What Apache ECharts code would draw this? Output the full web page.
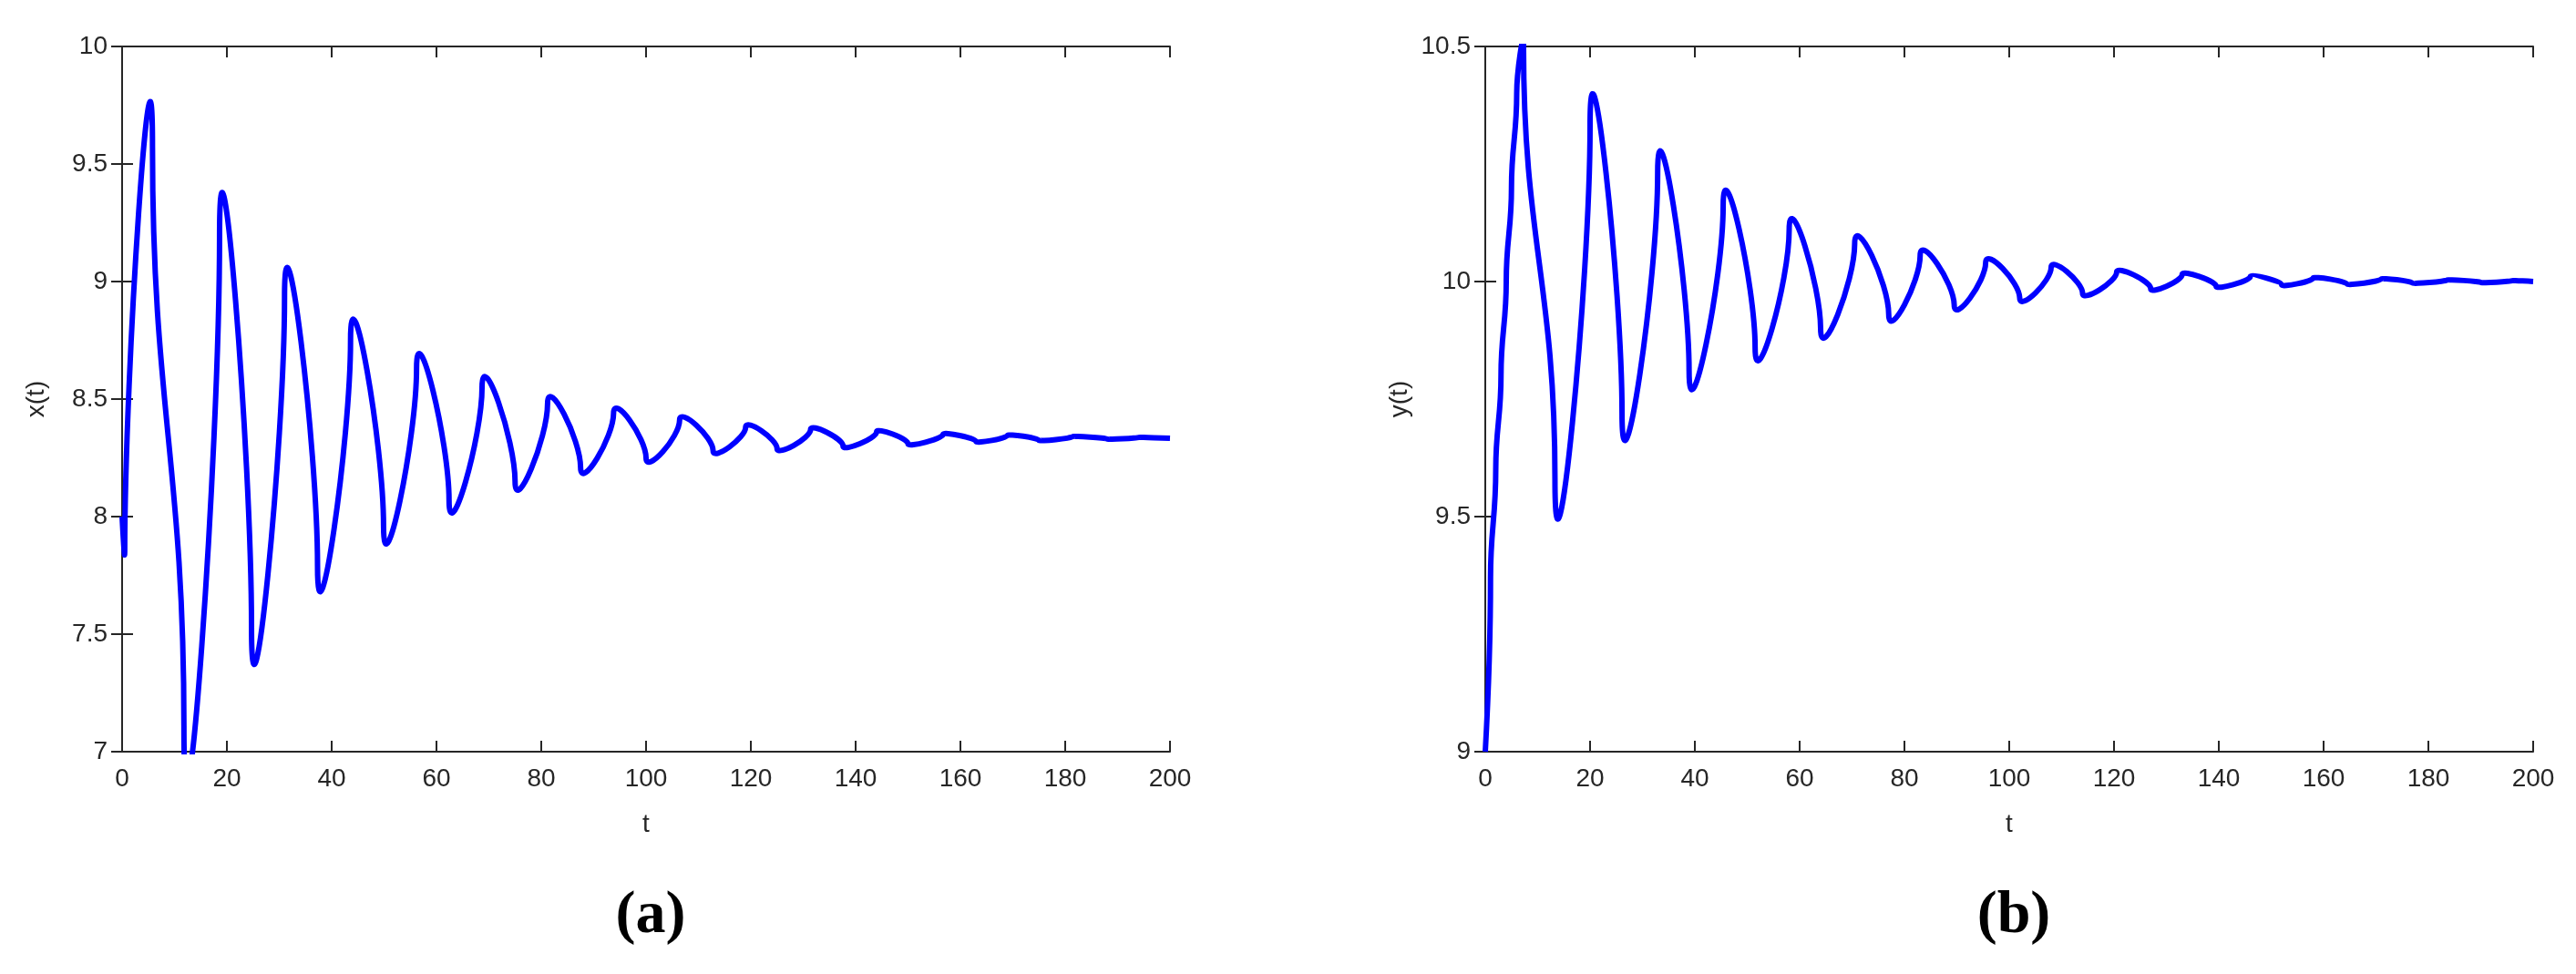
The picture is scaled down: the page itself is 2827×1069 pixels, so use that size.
<!DOCTYPE html>
<html>
<head>
<meta charset="utf-8">
<script src="https://cdn.jsdelivr.net/npm/echarts@6/dist/echarts.min.js"></script>
<style>html,body{margin:0;padding:0;background:#fff}#chart{width:2827px;height:1069px}</style>
</head>
<body>
<div id="chart"></div>
<script>
// x(t) 曲线：起点、极值点
var tA = [0, 0.5, 5.8, 11.8, 18.6, 24.7, 31, 37.3, 43.6, 49.9, 56.2, 62.4, 68.7, 75, 81.2, 87.5, 93.8, 100, 106.4, 112.8, 119, 125, 131.4, 137.6, 144, 150, 156.7, 163, 169, 175, 181.4, 188, 194, 200];
var xA = [8.0, 7.85, 9.57, 7.11, 9.19, 7.53, 8.93, 7.79, 8.75, 7.96, 8.63, 8.07, 8.55, 8.15, 8.48, 8.21, 8.44, 8.25, 8.41, 8.28, 8.38, 8.29, 8.37, 8.30, 8.36, 8.31, 8.35, 8.32, 8.345, 8.325, 8.34, 8.33, 8.337, 8.333];
// y(t) 曲线：起始上升段、极值点
var tB = [0, 1, 2, 3, 4, 5, 6, 7.3, 13.3, 20, 26.1, 32.9, 38.9, 45.4, 51.5, 58, 64, 70.5, 77, 83, 89.5, 95.5, 102, 108, 114, 120.5, 127, 133, 139.5, 146, 152, 158, 164.5, 171, 177, 183.5, 190, 196, 200];
var yB = [9.0, 9.37, 9.6, 9.8, 10.0, 10.2, 10.4, 10.5, 9.58, 10.33, 9.72, 10.23, 9.81, 10.16, 9.86, 10.11, 9.90, 10.08, 9.93, 10.055, 9.95, 10.04, 9.965, 10.03, 9.975, 10.02, 9.985, 10.015, 9.99, 10.01, 9.993, 10.007, 9.995, 10.005, 9.997, 10.003, 9.998, 10.002, 10.0];

function pairs(t, v){
	var d = [];
	for(var i=0;i<t.length;i++) d.push([t[i], v[i]]);
	return d;
}

var lbl = {color:'#262626', fontSize:28, fontFamily:'Liberation Sans, Arial'};
var lineSt = {color:'#262626', width:2};
var tick = {show:true, inside:true, length:12, lineStyle:{color:'#262626', width:2}};

function xAxes(g){
	return [
		{type:'value', gridIndex:g, min:0, max:200, interval:20, name:'t', nameLocation:'middle', nameGap:66,
		 nameTextStyle:lbl, axisLabel:Object.assign({margin:16}, lbl), axisLine:{show:true, lineStyle:lineSt}, axisTick:tick, splitLine:{show:false}},
		{type:'value', gridIndex:g, position:'top', min:0, max:200, interval:20, axisLabel:{show:false},
		 axisLine:{show:true, lineStyle:lineSt}, axisTick:tick, splitLine:{show:false}}
	];
}
function yAxes(g, mn, mx, name){
	return [
		{type:'value', gridIndex:g, min:mn, max:mx, interval:0.5, name:name, nameLocation:'middle', nameGap:80,
		 nameTextStyle:lbl, axisLabel:Object.assign({margin:16}, lbl), axisLine:{show:true, lineStyle:lineSt}, axisTick:tick, splitLine:{show:false}},
		{type:'value', gridIndex:g, position:'right', min:mn, max:mx, interval:0.5, axisLabel:{show:false},
		 axisLine:{show:true, lineStyle:lineSt}, axisTick:tick, splitLine:{show:false}}
	];
}

var chart = echarts.init(document.getElementById('chart'));
var capRich = {
	p:{fontFamily:'Liberation Serif, serif', fontSize:66, color:'#000'},
	b:{fontFamily:'Liberation Serif, serif', fontSize:66, fontWeight:'bold', color:'#000'}
};
chart.setOption({
	animation:false,
	backgroundColor:'#fff',
	grid:[
		{left:134, top:51, width:1150, height:774},
		{left:1630, top:51, width:1150, height:774}
	],
	xAxis: xAxes(0).concat(xAxes(1)),
	yAxis: yAxes(0, 7, 10, 'x(t)').concat(yAxes(1, 9, 10.5, 'y(t)')),
	title:[
		{text:'{p|(}{b|a}{p|)}', left:709, top:968, textAlign:'center', textStyle:{rich:capRich}},
		{text:'{p|(}{b|b}{p|)}', left:2205, top:968, textAlign:'center', textStyle:{rich:capRich}}
	],
	series:[
		{type:'line', xAxisIndex:0, yAxisIndex:0, data:pairs(tA, xA), smooth:0.45, smoothMonotone:'y', showSymbol:false,
		 lineStyle:{color:'#0000ff', width:6}},
		{type:'line', xAxisIndex:2, yAxisIndex:2, data:pairs(tB, yB), smooth:0.45, smoothMonotone:'y', showSymbol:false,
		 lineStyle:{color:'#0000ff', width:6}}
	]
});
</script>
</body>
</html>
